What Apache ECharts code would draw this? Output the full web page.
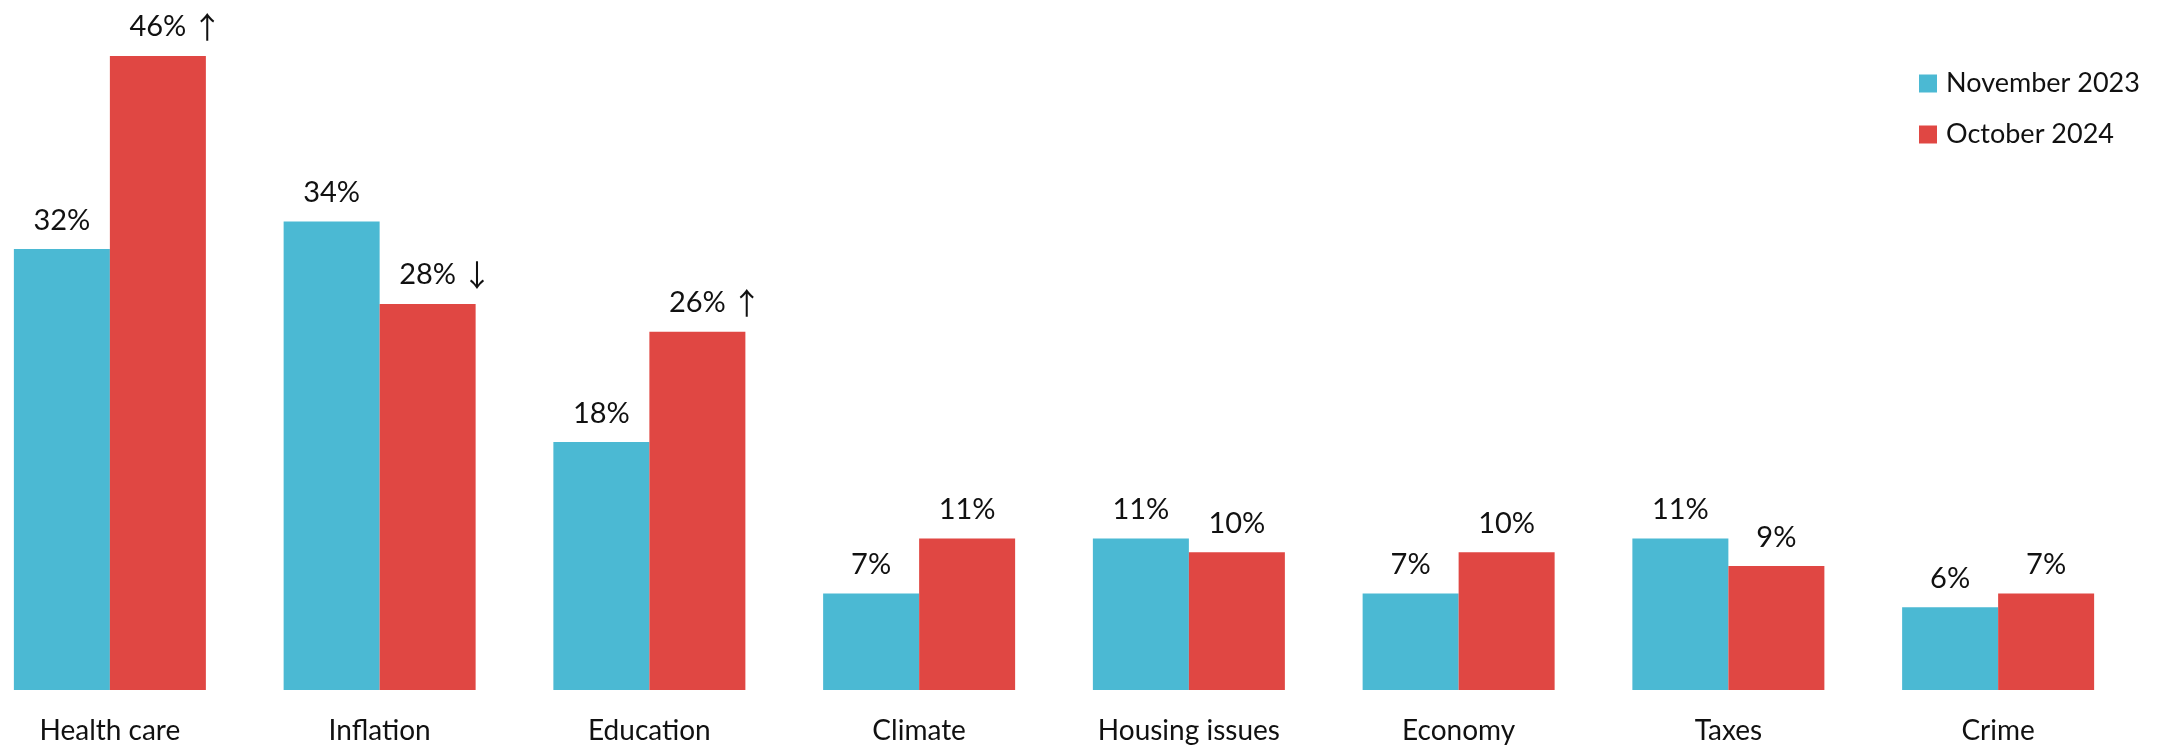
<!DOCTYPE html>
<html>
<head>
<meta charset="utf-8">
<script src="https://cdn.jsdelivr.net/npm/echarts@6/dist/echarts.min.js"></script>
<style>html,body{margin:0;padding:0;background:#fff}#c{width:2180px;height:748px}</style>
</head>
<body>
<div id="c"></div>
<script>
const categories = ['Health care','Inflation','Education','Climate','Housing issues','Economy','Taxes','Crime'];
const nov2023 = [32,34,18,7,11,7,11,6];
const oct2024 = [46,28,26,11,10,10,9,7];
const oct2024Arrows = ['↑','↓','↑','','','','',''];
const seriesNames = ['November 2023','October 2024'];

const FONT = 'Lato, "Noto Sans", sans-serif';
const chart = echarts.init(document.getElementById('c'));
const baseLabel = {show:true, position:'top', distance:14, color:'#111', fontFamily:FONT, fontSize:29,
  formatter: p => p.value + '%',
  rich:{arr:{fontFamily:'"Noto Sans CJK SC", "DejaVu Sans", sans-serif', fontSize:30, color:'#111', padding:[0,0,0,6]}}};
chart.setOption({
  animation:false,
  backgroundColor:'#fff',
  grid:{left:-25, right:47, top:56, bottom:58, containLabel:false, outerBoundsMode:'none'},
  legend:{
    orient:'vertical', left:1914, top:65, itemWidth:18, itemHeight:18, itemGap:24,
    icon:'rect',
    textStyle:{fontFamily:FONT, fontSize:27, color:'#111', padding:[0,0,0,4]},
    data:seriesNames
  },
  xAxis:{type:'category', data:categories, axisLine:{show:false}, axisTick:{show:false},
    axisLabel:{margin:27, fontFamily:FONT, fontSize:28, color:'#111'}},
  yAxis:{type:'value', min:0, max:46, show:false, splitLine:{show:false}},
  series:[
    {name:seriesNames[0], type:'bar', data:nov2023, barWidth:96, barGap:'0%',
      itemStyle:{color:'#4BB9D3'}, label:baseLabel},
    {name:seriesNames[1], type:'bar', data:oct2024.map((v,i)=>{
        const d={value:v};
        if(oct2024Arrows[i]) d.label={offset:[18,0], formatter: v + '%{arr|' + oct2024Arrows[i] + '}'};
        return d;
      }), barWidth:96, barGap:'0%',
      itemStyle:{color:'#E04743'}, label:baseLabel}
  ]
});
</script>
</body>
</html>
